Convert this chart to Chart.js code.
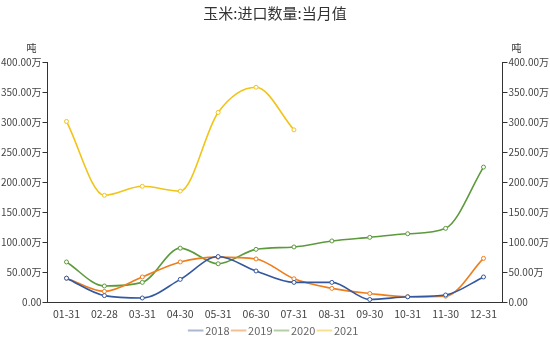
<!DOCTYPE html>
<html>
<head>
<meta charset="utf-8">
<script src="https://cdn.jsdelivr.net/npm/chart.js@4"></script>
<style>
  html, body { margin: 0; padding: 0; background: #fff; }
  #wrap { width: 550px; height: 341px; }
</style>
</head>
<body>
<div id="wrap"><canvas id="cornChart"></canvas></div>
<script>
// categories and series (unit: 万吨)
const months = ['01-31', '02-28', '03-31', '04-30', '05-31', '06-30', '07-31', '08-31', '09-30', '10-31', '11-30', '12-31'];
const seriesNames = ['2018', '2019', '2020', '2021'];
const v2018 = [40, 11, 7, 38, 76, 52, 33, 33, 4.5, 9, 12, 42];
const v2019 = [40, 18, 42, 67, 75, 72, 39, 23, 14.5, 9, 10, 73];
const v2020 = [67, 27, 33, 90, 64, 88, 92, 102, 108, 114, 123, 225];
const v2021 = [301, 178, 193, 185, 316, 358, 287, null, null, null, null, null];
const yTicks = [0, 50, 100, 150, 200, 250, 300, 350, 400];

const colors = ['#34589f', '#ee7d1c', '#5c9a3d', '#f0c419'];
const legendColors = ['#a9b7d3', '#f5bf94', '#b4cfa6', '#f6e08f'];
const fontFamily = '"Noto Sans CJK SC", "Noto Sans", sans-serif';

function fmt(v) {
    return v === 0 ? '0.00' : v.toFixed(2) + '万';
}

// draw the unit labels above both y axes
const unitLabels = {
    id: 'unitLabels',
    afterDraw(chart) {
        const ctx = chart.ctx;
        const yl = chart.scales.y;
        const yr = chart.scales.y2;
        ctx.save();
        ctx.font = '10px ' + fontFamily;
        ctx.fillStyle = '#333';
        ctx.textAlign = 'center';
        ctx.textBaseline = 'middle';
        ctx.fillText('吨', yl.right - 16, chart.chartArea.top - 14);
        ctx.fillText('吨', yr.left + 14, chart.chartArea.top - 14);
        ctx.restore();
    }
};

const allSeries = [v2018, v2019, v2020, v2021];

new Chart(document.getElementById('cornChart'), {
    type: 'line',
    data: {
        labels: months,
        datasets: allSeries.map((vals, i) => ({
            label: seriesNames[i],
            data: vals,
            borderColor: colors[i],
            backgroundColor: '#fff',
            borderWidth: 1.6,
            cubicInterpolationMode: 'monotone',
            pointRadius: 2,
            pointBorderWidth: 1,
            pointBackgroundColor: '#fff',
            pointBorderColor: colors[i],
            yAxisID: 'y'
        }))
    },
    options: {
        responsive: true,
        maintainAspectRatio: false,
        animation: false,
        layout: { padding: { left: 0, right: 0, top: 4, bottom: -5 } },
        plugins: {
            title: {
                display: true,
                text: '玉米:进口数量:当月值',
                color: '#333',
                font: { family: fontFamily, size: 15, weight: 'normal' },
                padding: { top: 0, bottom: 40 }
            },
            legend: {
                position: 'bottom',
                labels: {
                    color: '#666',
                    font: { family: fontFamily, size: 11 },
                    boxWidth: 8,
                    padding: 5,
                    usePointStyle: true,
                    generateLabels(chart) {
                        return chart.data.datasets.map((ds, i) => ({
                            text: ds.label,
                            pointStyle: 'line',
                            strokeStyle: legendColors[i],
                            fillStyle: legendColors[i],
                            lineWidth: 2,
                            fontColor: '#666',
                            datasetIndex: i
                        }));
                    }
                }
            },
            tooltip: { enabled: false }
        },
        scales: {
            x: {
                offset: true,
                grid: { display: false, offset: true, drawTicks: true, tickLength: 5, color: '#333' },
                border: { display: true, color: '#333' },
                ticks: { color: '#444', font: { family: fontFamily, size: 10.5, lineHeight: 1.6 }, padding: -2, maxRotation: 0, autoSkip: false }
            },
            y: {
                position: 'left',
                min: 0,
                max: 400,
                afterBuildTicks(axis) { axis.ticks = yTicks.map(v => ({ value: v })); },
                grid: { drawOnChartArea: false, tickLength: 5, color: '#333' },
                border: { display: true, color: '#333' },
                ticks: { color: '#444', font: { family: fontFamily, size: 10 }, padding: 1, callback: fmt }
            },
            y2: {
                position: 'right',
                min: 0,
                max: 400,
                afterBuildTicks(axis) { axis.ticks = yTicks.map(v => ({ value: v })); },
                grid: { drawOnChartArea: false, tickLength: 5, color: '#333' },
                border: { display: true, color: '#333' },
                ticks: { color: '#444', font: { family: fontFamily, size: 10 }, padding: 1, callback: fmt }
            }
        }
    },
    plugins: [unitLabels]
});
</script>
</body>
</html>
